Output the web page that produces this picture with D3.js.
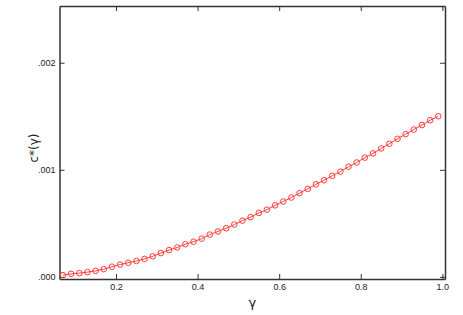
<!DOCTYPE html>
<html>
<head>
<meta charset="utf-8">
<script src="https://cdn.jsdelivr.net/npm/d3@7"></script>
<style>
  body { margin: 0; background: #fff; }
  svg { display: block; font-family: "Liberation Sans", Arial, sans-serif; }
</style>
</head>
<body>
<svg id="chart" width="463" height="315"></svg>
<script>
// gamma values (x) and c*(gamma) values
const gammaVals = [
  0.07, 0.09, 0.11, 0.13, 0.15, 0.17, 0.19, 0.21, 0.23, 0.25,
  0.27, 0.29, 0.31, 0.33, 0.35, 0.37, 0.39, 0.41, 0.43, 0.45,
  0.47, 0.49, 0.51, 0.53, 0.55, 0.57, 0.59, 0.61, 0.63, 0.65,
  0.67, 0.69, 0.71, 0.73, 0.75, 0.77, 0.79, 0.81, 0.83, 0.85,
  0.87, 0.89, 0.91, 0.93, 0.95, 0.97, 0.99
];
const cStarVals = [
  0.000016, 0.000028, 0.000035, 0.000044, 0.000056, 0.000072, 0.000095, 0.000115, 0.000132, 0.000148,
  0.000168, 0.000192, 0.000222, 0.000250, 0.000275, 0.000305, 0.000328, 0.000357, 0.000395, 0.000424,
  0.000454, 0.000489, 0.000525, 0.000558, 0.000597, 0.000628, 0.000668, 0.000704, 0.000741, 0.000782,
  0.000822, 0.000864, 0.000902, 0.000944, 0.000983, 0.001029, 0.001068, 0.001114, 0.001153, 0.001199,
  0.001243, 0.001289, 0.001333, 0.001376, 0.001418, 0.001463, 0.001500
];
const xTicks = [0.2, 0.4, 0.6, 0.8, 1.0];
const yTicks = [0.000, 0.001, 0.002];

const data = gammaVals.map((g, i) => ({ g: g, c: cStarVals[i] }));

const plotLeft = 59.5, plotRight = 445, plotTop = 6, plotBottom = 279;
const svg = d3.select('#chart');

const x = d3.scaleLinear().domain([0.0615, 1.0065]).range([plotLeft, plotRight]);
const y = d3.scaleLinear().domain([-0.00002, 0.00253]).range([plotBottom, plotTop]);

const axisColor = '#333';
const fmtY = v => d3.format('.3f')(v).replace(/^0/, '');

// bottom axis
const gb = svg.append('g')
  .attr('transform', `translate(0,${plotBottom})`)
  .call(d3.axisBottom(x).tickValues(xTicks).tickFormat(d3.format('.1f'))
    .tickSizeInner(-5).tickSizeOuter(0).tickPadding(5));

// top axis (ticks only)
const gt = svg.append('g')
  .attr('transform', `translate(0,${plotTop})`)
  .call(d3.axisTop(x).tickValues(xTicks).tickFormat('')
    .tickSizeInner(-5).tickSizeOuter(0));

// left axis
const gl = svg.append('g')
  .attr('transform', `translate(${plotLeft},0)`)
  .call(d3.axisLeft(y).tickValues(yTicks).tickFormat(fmtY)
    .tickSizeInner(-5).tickSizeOuter(0).tickPadding(4));

// right axis (ticks only)
const gr = svg.append('g')
  .attr('transform', `translate(${plotRight},0)`)
  .call(d3.axisRight(y).tickValues(yTicks).tickFormat('')
    .tickSizeInner(-5).tickSizeOuter(0));

[gb, gt, gl, gr].forEach(g => {
  g.select('.domain').attr('stroke', axisColor).attr('stroke-width', 1.5);
  g.selectAll('.tick line').attr('stroke', axisColor).attr('stroke-width', 1);
  g.selectAll('.tick text').attr('fill', '#222').style('font-size', '9px');
});

// curve
const line = d3.line().x(d => x(d.g)).y(d => y(d.c));
svg.append('path')
  .datum(data)
  .attr('fill', 'none')
  .attr('stroke', '#ff3b3b')
  .attr('stroke-width', 1)
  .attr('d', line);

svg.append('g').selectAll('circle')
  .data(data)
  .join('circle')
  .attr('cx', d => x(d.g))
  .attr('cy', d => y(d.c))
  .attr('r', 2.8)
  .attr('fill', 'none')
  .attr('stroke', '#ff3b3b')
  .attr('stroke-width', 1);

// axis titles
svg.append('text')
  .attr('x', (plotLeft + plotRight) / 2)
  .attr('y', 307)
  .attr('text-anchor', 'middle')
  .style('font-family', '"DejaVu Sans", sans-serif')
  .style('font-size', '13px')
  .attr('fill', '#222')
  .text('γ');

svg.append('text')
  .attr('transform', 'translate(38,148) rotate(-90)')
  .attr('text-anchor', 'middle')
  .style('font-family', '"DejaVu Sans", sans-serif')
  .style('font-size', '12px')
  .attr('fill', '#222')
  .text('c*(γ)');
</script>
</body>
</html>
